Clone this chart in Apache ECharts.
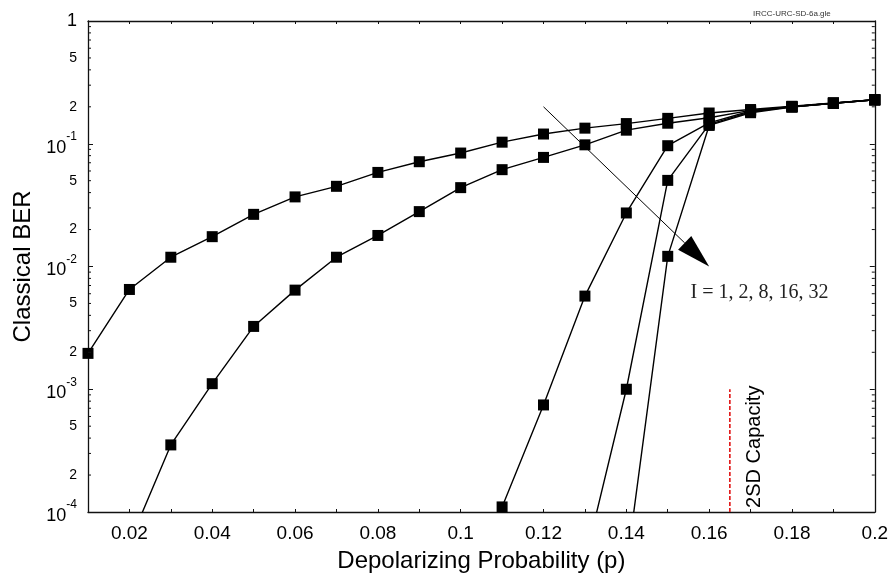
<!DOCTYPE html>
<html>
<head>
<meta charset="utf-8">
<script src="https://cdn.jsdelivr.net/npm/echarts@6/dist/echarts.min.js"></script>
<style>
  html, body { margin: 0; padding: 0; background: #fff; }
  #chart { width: 891px; height: 578px; }
</style>
</head>
<body>
<div id="chart"></div>
<script>
// Depolarizing probability grid (x axis)
const pValues = [0.01, 0.02, 0.03, 0.04, 0.05, 0.06, 0.07, 0.08, 0.09, 0.10,
                 0.11, 0.12, 0.13, 0.14, 0.15, 0.16, 0.17, 0.18, 0.19, 0.20];

// Classical BER for each number of iterations I
const berI1  = [1.96e-3, 6.5e-3, 1.19e-2, 1.75e-2, 2.66e-2, 3.69e-2, 4.5e-2, 5.84e-2, 7.14e-2, 8.4e-2,
                0.103, 0.12, 0.134, 0.146, 0.161, 0.178, 0.19, 0.202, 0.215, 0.228];
const berI2  = [null, 5.6e-5, 3.52e-4, 1.11e-3, 3.25e-3, 6.42e-3, 1.19e-2, 1.79e-2, 2.8e-2, 4.39e-2,
                6.15e-2, 7.74e-2, 9.8e-2, 0.129, 0.147, 0.163, 0.187, 0.2, 0.214, 0.228];
const berI8  = [null, null, null, null, null, null, null, null, null, null,
                1.1e-4, 7.45e-4, 5.74e-3, 2.73e-2, 9.64e-2, 0.148, 0.185, 0.2, 0.214, 0.228];
const berI16 = [null, null, null, null, null, null, null, null, null, null,
                null, null, 4e-5, 1.0e-3, 5.03e-2, 0.144, 0.182, 0.2, 0.214, 0.228];
const berI32 = [null, null, null, null, null, null, null, null, null, null,
                null, null, null, 3.5e-5, 1.21e-2, 0.141, 0.179, 0.199, 0.214, 0.228];

const curveNames = ['I = 1', 'I = 2', 'I = 8', 'I = 16', 'I = 32'];
const curves = [berI1, berI2, berI8, berI16, berI32];

// Axis ranges and tick layout
const X_MIN = 0.01, X_MAX = 0.2, X_STEP = 0.01;
const Y_MIN = 1e-4, Y_MAX = 1;
const decadeExponents = [-4, -3, -2, -1];
const minorTickMantissas = [2, 3, 4, 5, 6, 7, 8, 9];
const minorLabelMantissas = [2, 5];

// Annotations
const arrowStart = [0.12, 0.2];
const arrowTip = [0.16, 0.01];
const iterationLabelPos = [0.1555, 6.1e-3];
const iterationLabel = 'I = 1, 2, 8, 16, 32';
const capacityP = 0.165;
const capacityRange = [1e-4, 1e-3];
const capacityLabelPos = [0.171, 3.4e-4];
const capacityLabel = '2SD Capacity';
const fileTag = 'IRCC-URC-SD-6a.gle';

const FONT = '"Liberation Sans", Arial, sans-serif';
const SERIF = '"Liberation Serif", "DejaVu Serif", serif';

const minorTickData = [];
decadeExponents.forEach(e => minorTickMantissas.forEach(m => {
  minorTickData.push([X_MIN, m * Math.pow(10, e), m]);
}));

const chart = echarts.init(document.getElementById('chart'), null, { renderer: 'canvas' });

const axisLineStyle = { color: '#111', width: 1.3 };

const xAxisBase = {
  type: 'value', min: X_MIN, max: X_MAX, interval: X_STEP,
  axisLine: { show: true, onZero: false, lineStyle: axisLineStyle },
  axisTick: { show: true, inside: true, length: 3, lineStyle: { color: '#111', width: 1 } },
  splitLine: { show: false }
};
const yAxisBase = {
  type: 'log', logBase: 10, min: Y_MIN, max: Y_MAX,
  axisLine: { show: true, lineStyle: axisLineStyle },
  axisTick: { show: true, inside: true, length: 5, lineStyle: { color: '#111', width: 1 } },
  splitLine: { show: false },
  minorTick: { show: false }
};

const option = {
  animation: false,
  backgroundColor: '#fff',
  title: {
    text: fileTag, left: 748, top: 5,
    textStyle: { fontSize: 8, fontWeight: 'normal', color: '#333', fontFamily: FONT }
  },
  grid: { left: 88, right: 15, top: 21, bottom: 65, containLabel: false },
  xAxis: [
    Object.assign({}, xAxisBase, {
      position: 'bottom',
      name: 'Depolarizing Probability (p)', nameLocation: 'middle', nameGap: 37,
      nameTextStyle: { fontSize: 24, color: '#000', fontFamily: FONT },
      axisLabel: {
        show: true, margin: 12, fontSize: 19, color: '#000', fontFamily: FONT,
        formatter: v => {
          const k = Math.round(v * 100);
          return k % 2 ? '' : String(k / 100);
        }
      }
    }),
    Object.assign({}, xAxisBase, { position: 'top', axisLabel: { show: false } })
  ],
  yAxis: [
    Object.assign({}, yAxisBase, {
      position: 'left',
      name: 'Classical BER', nameLocation: 'middle', nameGap: 52,
      nameTextStyle: { fontSize: 24, color: '#000', fontFamily: FONT },
      axisLabel: {
        show: true, margin: 11, color: '#000', fontFamily: FONT,
        formatter: v => {
          const e = Math.round(Math.log10(v));
          return e === 0 ? '{one|1}' : '{b|10}{s|' + e + '}';
        },
        rich: {
          one: { fontSize: 18, fontFamily: FONT, color: '#000' },
          b: { fontSize: 18, lineHeight: 26, verticalAlign: 'bottom', fontFamily: FONT, color: '#000' },
          s: { fontSize: 12, lineHeight: 26, verticalAlign: 'top', fontFamily: FONT, color: '#000' }
        }
      }
    }),
    Object.assign({}, yAxisBase, { position: 'right', axisLabel: { show: false } })
  ],
  series: [
    ...curves.map((arr, i) => ({
      type: 'line', name: curveNames[i],
      xAxisIndex: 0, yAxisIndex: 0,
      data: pValues.map((p, j) => [p, arr[j]]),
      symbol: 'rect', symbolSize: 11, showAllSymbol: true,
      itemStyle: { color: '#000' },
      lineStyle: { color: '#000', width: 1.4 },
      connectNulls: false, clip: true, z: 3
    })),
    // 2SD capacity threshold
    {
      type: 'line', name: 'capacity',
      data: capacityRange.map(v => [capacityP, v]),
      symbol: 'none',
      lineStyle: { color: '#e01010', width: 1.6, type: [4, 2] },
      z: 2
    },
    // Minor log ticks on both vertical axes plus the 2 / 5 labels
    {
      type: 'custom', name: 'minorTicks', coordinateSystem: 'cartesian2d',
      silent: true, z: 4,
      data: minorTickData,
      renderItem: (params, api) => {
        const v = api.value(1);
        const m = api.value(2);
        const L = api.coord([X_MIN, v]);
        const R = api.coord([X_MAX, v]);
        const children = [
          { type: 'line', shape: { x1: L[0], y1: L[1], x2: L[0] + 3, y2: L[1] }, style: { stroke: '#111', lineWidth: 1 } },
          { type: 'line', shape: { x1: R[0] - 3, y1: R[1], x2: R[0], y2: R[1] }, style: { stroke: '#111', lineWidth: 1 } }
        ];
        if (minorLabelMantissas.indexOf(m) >= 0) {
          children.push({
            type: 'text', x: L[0] - 11, y: L[1],
            style: { text: String(m), align: 'right', verticalAlign: 'middle', fontSize: 14, fontFamily: FONT, fill: '#000' }
          });
        }
        return { type: 'group', children };
      }
    },
    // Arrow across the curves and text annotations
    {
      type: 'custom', name: 'annotations', coordinateSystem: 'cartesian2d',
      silent: true, z: 6,
      data: [[arrowStart[0], arrowStart[1]]],
      renderItem: (params, api) => {
        const p0 = api.coord(arrowStart);
        const p1 = api.coord(arrowTip);
        const dx = p1[0] - p0[0], dy = p1[1] - p0[1];
        const len = Math.sqrt(dx * dx + dy * dy);
        const ux = dx / len, uy = dy / len;
        const headLen = 34, headHalf = 9.5;
        const bx = p1[0] - ux * headLen, by = p1[1] - uy * headLen;
        const tl = api.coord(iterationLabelPos);
        const cl = api.coord(capacityLabelPos);
        return {
          type: 'group',
          children: [
            { type: 'line', shape: { x1: p0[0], y1: p0[1], x2: bx, y2: by }, style: { stroke: '#000', lineWidth: 1 } },
            { type: 'polygon', shape: { points: [[p1[0], p1[1]], [bx - uy * headHalf, by + ux * headHalf], [bx + uy * headHalf, by - ux * headHalf]] }, style: { fill: '#000' } },
            { type: 'text', x: tl[0], y: tl[1], style: { text: iterationLabel, align: 'left', verticalAlign: 'middle', fontSize: 20, fontFamily: SERIF, fill: '#222' } },
            { type: 'text', x: cl[0], y: cl[1], rotation: Math.PI / 2, style: { text: capacityLabel, align: 'center', verticalAlign: 'middle', fontSize: 20, fontFamily: FONT, fill: '#000' } }
          ]
        };
      }
    }
  ]
};

chart.setOption(option);
</script>
</body>
</html>
